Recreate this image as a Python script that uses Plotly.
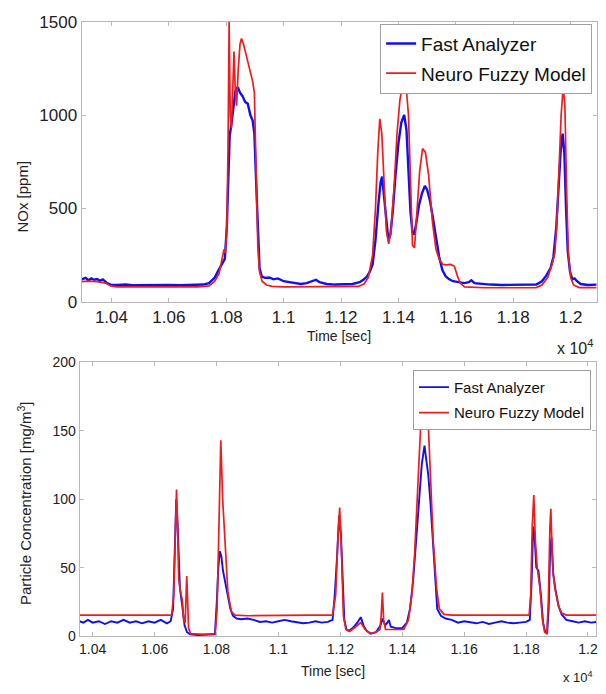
import plotly.graph_objects as go

# ---------------- data ----------------
# Top panel: NOx [ppm]
nox_t_fa = [10296, 10310, 10320, 10330, 10340, 10350, 10360, 10370, 10385, 10397, 10420, 10450, 10480, 10520,
            10560, 10600, 10640, 10680, 10720, 10740, 10750, 10760, 10770, 10785, 10795, 10802, 10808, 10812,
            10818, 10825, 10832, 10840, 10848, 10857, 10866, 10875, 10884, 10892, 10898, 10904, 10910, 10916,
            10924, 10935, 10950, 10965, 10980, 11000, 11020, 11040, 11060, 11080, 11100, 11113, 11125, 11150,
            11180, 11210, 11240, 11265, 11280, 11290, 11300, 11310, 11320, 11330, 11338, 11343, 11350, 11358,
            11365, 11372, 11380, 11390, 11400, 11410, 11420, 11428, 11435, 11442, 11449, 11455, 11462, 11472,
            11482, 11492, 11500, 11510, 11520, 11531, 11542, 11553, 11565, 11577, 11590, 11610, 11630, 11645,
            11654, 11665, 11690, 11720, 11760, 11800, 11840, 11880, 11900, 11915, 11930, 11940, 11950, 11958,
            11965, 11972, 11978, 11984, 11990, 11998, 12006, 12014, 12022, 12035, 12060, 12090]
nox_fa = [120, 128, 115, 125, 118, 122, 112, 120, 100, 92, 90, 92, 88, 90,
          88, 90, 88, 90, 92, 100, 118, 130, 160, 200, 230, 400, 700, 890,
          950, 1050, 1130, 1150, 1120, 1100, 1070, 1060, 1000, 970, 900, 650, 350, 180,
          135, 128, 130, 120, 125, 110, 105, 100, 95, 100, 110, 118, 105, 95,
          92, 95, 95, 105, 120, 135, 160, 200, 330, 520, 640, 670, 560, 400,
          330, 360, 480, 680, 850, 960, 1000, 920, 700, 480, 370, 360, 420, 520,
          580, 620, 600, 540, 450, 340, 240, 170, 135, 120, 110, 105, 100, 105,
          115, 100, 95, 92, 90, 90, 90, 92, 110, 140, 180, 240, 400, 620,
          800, 900, 800, 500, 270, 160, 120, 125, 110, 95, 90, 92]

nox_t_nf = [10296, 10320, 10350, 10380, 10397, 10420, 10500, 10600, 10700, 10740, 10760, 10775, 10785, 10792,
            10797, 10802, 10806, 10810, 10814, 10818, 10822, 10827, 10831, 10836, 10842, 10848, 10853, 10860,
            10868, 10876, 10884, 10892, 10898, 10904, 10910, 10916, 10925, 10940, 10960, 11000, 11100, 11200,
            11260, 11280, 11295, 11310, 11320, 11328, 11335, 11342, 11350, 11358, 11366, 11374, 11385, 11395,
            11405, 11412, 11420, 11428, 11435, 11442, 11449, 11456, 11464, 11474, 11484, 11494, 11505, 11519,
            11531, 11543, 11555, 11567, 11582, 11595, 11605, 11615, 11630, 11700, 11800, 11880, 11900, 11920,
            11935, 11945, 11952, 11960, 11967, 11974, 11980, 11986, 11992, 12000, 12010, 12030, 12090]
nox_nf = [108, 110, 108, 100, 85, 80, 80, 80, 80, 85, 110, 150, 230, 280,
          260, 400, 800, 1500, 1000, 930, 1100, 1340, 1150, 1050, 1250, 1380, 1410, 1380,
          1330, 1280, 1240, 1180, 1120, 700, 300, 160, 110, 90, 82, 80, 80, 80,
          82, 95, 130, 250, 500, 800, 980, 900, 600, 380, 310, 380, 620, 900,
          1080, 1140, 1150, 1130, 1000, 650, 300, 290, 450, 700, 820, 800, 680, 420,
          280, 225, 200, 198, 200, 190, 140, 100, 80, 75, 75, 76, 90, 130,
          200, 260, 420, 750, 1000, 1150, 1050, 600, 260, 130, 90, 76, 76]

# Bottom panel: particle concentration [mg/m^3]
pc_t_fa = [10358, 10370, 10385, 10400, 10420, 10440, 10460, 10480, 10500, 10520, 10540, 10560, 10580, 10600,
           10620, 10640, 10652, 10660, 10665, 10670, 10674, 10678, 10682, 10688, 10692, 10697, 10705, 10715,
           10740, 10770, 10795, 10801, 10806, 10811, 10816, 10821, 10828, 10837, 10845, 10853, 10865, 10880,
           10900, 10920, 10940, 10960, 10980, 11000, 11020, 11040, 11060, 11080, 11100, 11120, 11140, 11160,
           11175, 11182, 11190, 11196, 11202, 11208, 11213, 11220, 11228, 11240, 11255, 11266, 11275, 11285,
           11298, 11315, 11330, 11336, 11345, 11352, 11357, 11363, 11380, 11400, 11415, 11425, 11435, 11445,
           11455, 11463, 11468, 11472, 11477, 11484, 11491, 11502, 11513, 11525, 11540, 11560, 11580, 11600,
           11620, 11640, 11660, 11680, 11700, 11720, 11740, 11760, 11780, 11800, 11812, 11818, 11823, 11827,
           11833, 11840, 11848, 11855, 11862, 11868, 11873, 11878, 11882, 11888, 11895, 11905, 11915, 11930,
           11950, 11970, 11990, 12010, 12026]
pc_fa = [11, 10, 12, 10, 11, 9, 11, 10, 12, 10, 11, 9.5, 11, 10,
         12, 9.5, 11, 20, 60, 100, 85, 55, 35, 25, 15, 8, 3, 1.5,
         1, 1, 1.5, 25, 50, 62, 58, 48, 40, 30, 20, 15, 13, 12.5,
         13, 12, 10.5, 11, 10, 11, 12, 11, 10, 9.5, 10, 11, 10, 10.5,
         12, 30, 60, 88, 75, 35, 12, 5, 4, 6, 10, 14, 8, 4,
         2, 3, 8, 13, 8, 10, 12, 7, 6, 6, 10, 20, 40, 70,
         105, 125, 133, 139, 130, 118, 98, 55, 20, 15, 13, 12, 10, 11,
         10, 9.5, 10.5, 9, 10, 11, 10, 9.5, 10, 10.5, 12, 40, 80, 75,
         50, 48, 30, 10, 3, 2, 20, 65, 72, 45, 34, 22, 16, 12,
         11, 10, 11, 10, 10.5]

pc_t_nf = [10358, 10500, 10655, 10662, 10667, 10671, 10675, 10678, 10682, 10686, 10690, 10694, 10699, 10704,
           10707, 10710, 10716, 10760, 10796, 10802, 10808, 10814, 10820, 10827, 10837, 10848, 10860, 10900,
           11000, 11100, 11175, 11185, 11192, 11198, 11204, 11210, 11218, 11230, 11250, 11266, 11280, 11298,
           11315, 11328, 11332, 11336, 11340, 11346, 11370, 11405, 11420, 11431, 11440, 11447, 11455, 11462,
           11470, 11478, 11485, 11492, 11500, 11511, 11520, 11535, 11560, 11700, 11810, 11815, 11820, 11825,
           11830, 11836, 11845, 11853, 11860, 11867, 11872, 11877, 11880, 11886, 11893, 11905, 11915, 11930,
           12026]
pc_nf = [15.5, 15.5, 15.5, 30, 80, 107, 75, 42, 35, 30, 26, 12, 10, 44,
         20, 6, 2, 1.5, 2, 20, 80, 143, 100, 72, 32, 18, 15.5, 15,
         15.5, 15.5, 15.5, 30, 70, 94, 60, 15, 5, 3.5, 7, 10, 5, 2,
         3, 5, 15, 32, 12, 5, 5, 5, 12, 30, 60, 93, 130, 165,
         180, 175, 150, 110, 70, 35, 20, 16, 15.5, 15.5, 15.5, 30, 80, 103,
         70, 50, 35, 12, 3, 2, 25, 80, 93, 50, 35, 22, 17, 15.5,
         15.5]

x_tickvals = [10400, 10600, 10800, 11000, 11200, 11400, 11600, 11800, 12000]
x_ticktext = ["1.04", "1.06", "1.08", "1.1", "1.12", "1.14", "1.16", "1.18", "1.2"]
nox_ticks = [0, 500, 1000, 1500]
pc_ticks = [0, 50, 100, 150, 200]
series_names = ["Fast Analyzer", "Neuro Fuzzy Model"]

# ---------------- layout helpers ----------------
W, H = 606, 694
FONT = "Liberation Sans, Arial, sans-serif"
BLUE = "#1010ee"
RED = "#ee1c1c"
AX = "#b8b8c0"
TXT = "#222"


def fx(p):
    return p / W


def fy(p):
    return 1 - p / H


fig = go.Figure()
fig.add_trace(go.Scatter(x=nox_t_fa, y=nox_fa, mode="lines", name=series_names[0],
                         line=dict(color=BLUE, width=2.4), xaxis="x", yaxis="y",
                         legend="legend", legendgroup="a"))
fig.add_trace(go.Scatter(x=nox_t_nf, y=nox_nf, mode="lines", name=series_names[1],
                         line=dict(color=RED, width=1.7), xaxis="x", yaxis="y",
                         legend="legend", legendgroup="b"))
fig.add_trace(go.Scatter(x=pc_t_fa, y=pc_fa, mode="lines", name=series_names[0],
                         line=dict(color=BLUE, width=1.9), xaxis="x2", yaxis="y2",
                         legend="legend2", legendgroup="c"))
fig.add_trace(go.Scatter(x=pc_t_nf, y=pc_nf, mode="lines", name=series_names[1],
                         line=dict(color=RED, width=1.7), xaxis="x2", yaxis="y2",
                         legend="legend2", legendgroup="d"))


def axis(size, **kw):
    d = dict(showline=True, linecolor=AX, linewidth=1, mirror="ticks", ticks="inside",
             ticklen=4, tickcolor=AX, showgrid=False, zeroline=False,
             tickfont=dict(family=FONT, size=size, color=TXT))
    d.update(kw)
    return d


fig.update_layout(
    width=W, height=H, margin=dict(l=0, r=0, t=0, b=0),
    paper_bgcolor="white", plot_bgcolor="white",
    font=dict(family=FONT, color=TXT),
    xaxis=axis(17, domain=[fx(81), fx(599)], range=[10296, 12092], anchor="y",
               tickvals=x_tickvals, ticktext=x_ticktext),
    yaxis=axis(17, domain=[fy(301), fy(13)], range=[0, 1500], anchor="x",
               tickvals=nox_ticks),
    xaxis2=axis(14, domain=[fx(79), fx(598)], range=[10358, 12026], anchor="y2",
                tickvals=x_tickvals, ticktext=x_ticktext),
    yaxis2=axis(14, domain=[fy(645), fy(363)], range=[0, 200], anchor="x2",
                tickvals=pc_ticks),
    legend=dict(x=fx(381), y=fy(15), xanchor="left", yanchor="top",
                bgcolor="white", bordercolor="#a0a0a0", borderwidth=1,
                font=dict(family=FONT, size=19, color="#111"), tracegroupgap=2),
    legend2=dict(x=fx(414), y=fy(371), xanchor="left", yanchor="top",
                 bgcolor="white", bordercolor="#a0a0a0", borderwidth=1,
                 font=dict(family=FONT, size=15, color="#111"), tracegroupgap=3),
    showlegend=True,
)


def label(text, x, y, size, angle=0):
    return dict(text=text, x=fx(x), y=fy(y), xref="paper", yref="paper",
                xanchor="center", yanchor="middle", textangle=angle, showarrow=False,
                font=dict(family=FONT, size=size, color=TXT))


ann = [
    label("NOx [ppm]", 22, 193, 15, -90),
    label("Time [sec]", 340, 336, 14),
    label("x 10<sup>4</sup>", 577, 347, 16),
    label("Particle Concentration [mg/m<sup>3</sup>]", 23, 508, 15, -90),
    label("Time [sec]", 334, 681, 14),
    label("x 10<sup>4</sup>", 580, 687, 13),
]
fig.update_layout(annotations=ann)

fig.write_html("out.html")
